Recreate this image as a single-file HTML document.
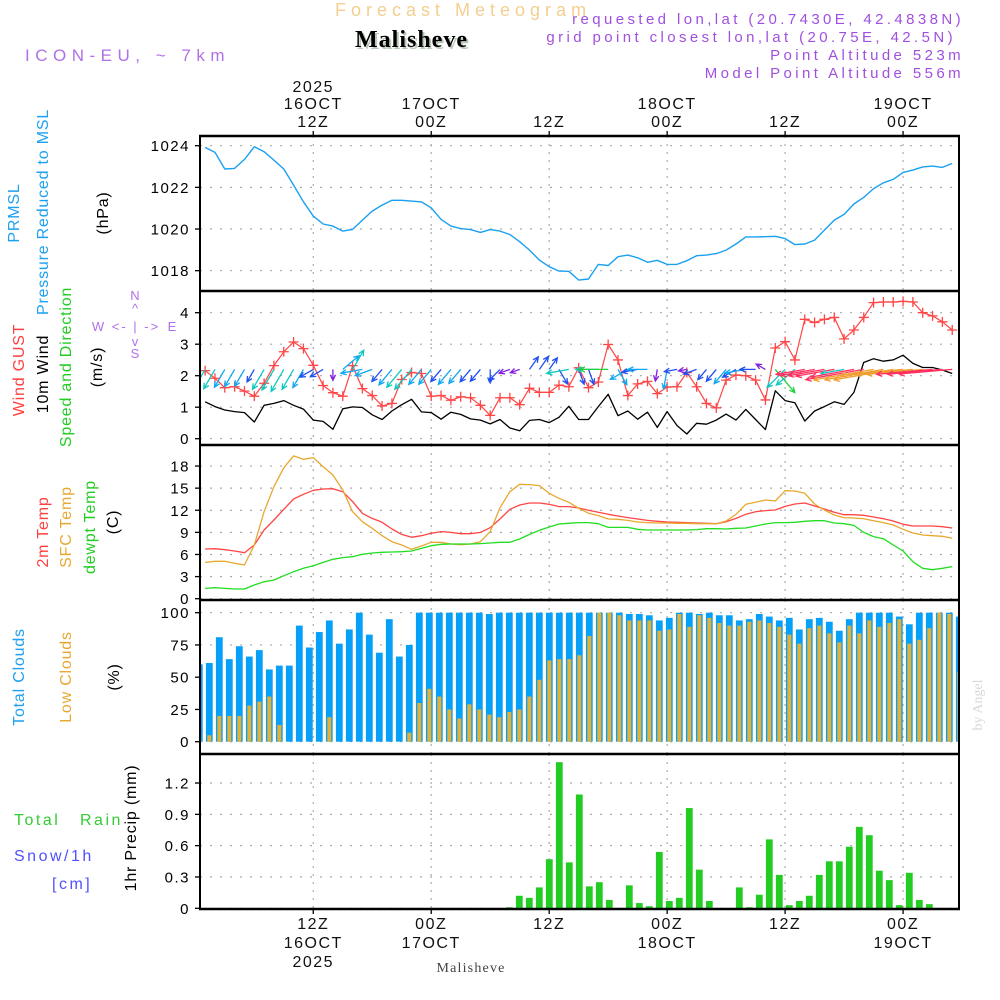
<!DOCTYPE html>
<html>
<head>
<meta charset="utf-8">
<style>
html,body{margin:0;padding:0;background:#fff;}
svg{display:block;font-family:"Liberation Sans",sans-serif;}
</style>
</head>
<body>
<svg id="chart" width="1000" height="1000" viewBox="0 0 1000 1000" xmlns="http://www.w3.org/2000/svg">
<defs><clipPath id="plotclip"><rect x="200" y="136" width="759" height="773"/></clipPath></defs>
<text x="335" y="16" font-size="18" fill="#f3cf90" letter-spacing="5">Forecast Meteogram</text>
<text x="357" y="49" font-size="24" font-weight="bold" font-family="Liberation Serif,serif" fill="#b8c8b8" letter-spacing="1">Malisheve</text>
<text x="355" y="47" font-size="24" font-weight="bold" font-family="Liberation Serif,serif" fill="#000" letter-spacing="1">Malisheve</text>
<text x="25" y="61" font-size="17" fill="#b070e8" letter-spacing="5.5">ICON-EU, ~ 7km</text>
<g fill="#a050e0" font-size="15" text-anchor="end" letter-spacing="3.4">
<text x="964" y="24">requested lon,lat (20.7430E, 42.4838N)</text>
<text x="956" y="42">grid point closest lon,lat (20.75E, 42.5N)</text>
<text x="964" y="60">Point Altitude 523m</text>
<text x="964" y="78">Model Point Altitude 556m</text>
</g>
<g font-size="16" text-anchor="middle" letter-spacing="0.8">
<g transform="translate(19,213) rotate(-90)"><text fill="#1ea0f0">PRMSL</text></g>
<g transform="translate(48,212) rotate(-90)"><text fill="#1ea0f0">Pressure Reduced to MSL</text></g>
<g transform="translate(108,213) rotate(-90)"><text fill="#000">(hPa)</text></g>
<g transform="translate(24,370) rotate(-90)"><text fill="#ff4040">Wind GUST</text></g>
<g transform="translate(48,374) rotate(-90)"><text fill="#000">10m Wind</text></g>
<g transform="translate(71,367) rotate(-90)"><text fill="#22cc22">Speed and Direction</text></g>
<g transform="translate(102,367) rotate(-90)"><text fill="#000">(m/s)</text></g>
<g transform="translate(48,532) rotate(-90)"><text fill="#ff4040">2m Temp</text></g>
<g transform="translate(71,527) rotate(-90)"><text fill="#e8a830">SFC Temp</text></g>
<g transform="translate(95,527) rotate(-90)"><text fill="#22cc22">dewpt Temp</text></g>
<g transform="translate(118,522) rotate(-90)"><text fill="#000">(C)</text></g>
<g transform="translate(24,677) rotate(-90)"><text fill="#1ea0f0">Total Clouds</text></g>
<g transform="translate(71,677) rotate(-90)"><text fill="#e8a830">Low Clouds</text></g>
<g transform="translate(119,677) rotate(-90)"><text fill="#000">(%)</text></g>
<g transform="translate(136,828) rotate(-90)"><text fill="#000">1hr Precip (mm)</text></g>
</g>
<g font-size="16" letter-spacing="2.5">
<text x="14" y="825" fill="#33cc33">Total</text>
<text x="80" y="825" fill="#33cc33">Rain</text>
<text x="14" y="861" fill="#5050ff">Snow/1h</text>
<text x="52" y="889" fill="#5050ff">[cm]</text>
</g>
<g fill="#b070e8" font-size="13" text-anchor="middle">
<text x="135" y="300">N</text>
<text x="135" y="313">^</text>
<text x="98" y="331">W</text>
<text x="136" y="331" letter-spacing="2">&lt;- | -&gt;</text>
<text x="172" y="331">E</text>
<text x="135" y="346">v</text>
<text x="135" y="358">S</text>
</g>
<g transform="translate(982,705) rotate(-90)"><text text-anchor="middle" font-size="14" fill="#d8d8d8" font-family="Liberation Serif,serif">by Angel</text></g>
<text x="471" y="972" font-size="14" text-anchor="middle" font-family="Liberation Serif,serif" fill="#444" letter-spacing="1.2">Malisheve</text>
<g id="layer"></g>
</svg>
<script>
// ---- data (hours 1..77 from 16OCT 00Z) ----
const hours = Array.from({length:77},(_,i)=>i+1);
const pressure = [1023.92,1023.68,1022.88,1022.91,1023.34,1023.95,1023.71,1023.31,1022.88,1022.11,1021.31,1020.62,1020.24,1020.14,1019.9,1019.98,1020.43,1020.86,1021.15,1021.38,1021.38,1021.34,1021.3,1021.02,1020.46,1020.14,1020.02,1019.97,1019.84,1019.97,1019.9,1019.73,1019.39,1018.99,1018.51,1018.19,1017.98,1017.97,1017.55,1017.6,1018.3,1018.25,1018.67,1018.75,1018.62,1018.4,1018.5,1018.3,1018.3,1018.48,1018.72,1018.75,1018.82,1018.99,1019.28,1019.62,1019.62,1019.63,1019.65,1019.54,1019.25,1019.28,1019.47,1019.95,1020.43,1020.7,1021.2,1021.52,1021.94,1022.22,1022.38,1022.72,1022.83,1022.98,1023.02,1022.96,1023.15];
const wind10m = [1.17,1.02,0.91,0.86,0.83,0.53,1.06,1.12,1.21,1.06,0.94,0.59,0.55,0.30,0.95,1.01,0.99,0.76,0.61,0.88,1.08,1.25,0.85,0.83,0.62,0.84,0.77,0.63,0.59,0.47,0.61,0.34,0.25,0.58,0.61,0.51,0.68,1.03,0.61,0.61,1.02,1.41,0.73,0.88,0.62,0.84,0.36,0.86,0.42,0.15,0.49,0.46,0.59,0.78,0.59,0.93,0.61,0.29,1.52,1.21,1.14,0.56,0.88,1.02,1.17,1.09,1.47,2.42,2.54,2.46,2.50,2.65,2.39,2.26,2.26,2.18,2.07];
const gust = [2.16,1.92,1.62,1.65,1.51,1.35,1.76,2.32,2.76,3.07,2.86,2.33,1.69,1.46,1.35,2.32,1.59,1.37,1.04,1.12,1.88,2.10,2.07,1.35,1.37,1.22,1.33,1.30,1.06,0.74,1.30,1.30,1.08,1.60,1.47,1.47,1.70,1.65,2.25,1.62,1.80,2.99,2.50,1.37,1.74,1.82,1.43,1.64,1.65,2.10,1.65,1.12,0.98,1.86,2.02,2.00,1.86,1.23,2.88,3.08,2.50,3.79,3.69,3.79,3.85,3.17,3.45,3.85,4.32,4.34,4.34,4.36,4.34,4.0,3.90,3.71,3.45];
const windDir = [30,30,30,30,30,30,30,30,30,30,30,60,60,0,230,210,80,70,40,40,40,40,40,40,40,40,40,40,40,0,45,70,70,215,215,215,330,80,340,340,90,90,330,60,80,90,10,10,80,80,70,40,40,40,60,80,90,120,320,45,50,80,80,80,80,80,80,80,80,80,80,85,85,85,85,85,85];
const temp2m = [6.74,6.79,6.65,6.47,6.24,7.29,9.32,10.68,12.13,13.53,14.16,14.71,14.89,14.93,14.52,13.17,11.58,10.9,10.36,9.46,8.73,8.33,8.55,8.87,9.1,9.0,8.82,8.82,9.0,9.64,10.81,12.13,12.71,12.99,12.99,12.81,12.49,12.49,12.31,12.0,11.72,11.45,11.22,11.0,10.81,10.63,10.5,10.41,10.36,10.32,10.27,10.23,10.18,10.45,10.9,11.45,11.81,11.95,12.04,12.53,12.85,12.99,12.58,12.17,11.72,11.4,11.4,11.31,11.09,10.86,10.54,10.09,9.86,9.86,9.86,9.77,9.59];
const tempSfc = [4.93,5.07,5.07,4.8,4.57,7.29,11.81,15.2,17.78,19.37,18.91,19.14,17.92,16.79,14.75,11.81,10.45,9.55,8.55,7.74,7.29,6.70,7.15,7.65,7.65,7.42,7.33,7.42,7.74,9.1,12.35,14.52,15.52,15.48,15.34,14.3,13.62,13.08,12.26,11.6,11.27,10.81,10.77,10.63,10.41,10.32,10.27,10.27,10.23,10.23,10.18,10.18,10.18,10.54,11.45,12.81,13.08,13.39,13.26,14.66,14.62,14.3,12.85,12.04,11.36,11.0,10.95,10.86,10.59,10.32,10.0,9.41,8.91,8.64,8.55,8.46,8.19];
const dewpt = [1.40,1.49,1.40,1.31,1.31,1.86,2.31,2.53,3.12,3.67,4.12,4.48,4.93,5.34,5.57,5.70,6.02,6.20,6.29,6.33,6.38,6.47,6.83,7.19,7.38,7.42,7.42,7.42,7.47,7.56,7.65,7.65,8.1,8.73,9.28,9.73,10.14,10.23,10.32,10.32,10.18,9.68,9.68,9.68,9.41,9.32,9.32,9.32,9.32,9.32,9.37,9.50,9.50,9.46,9.55,9.59,9.86,10.14,10.32,10.32,10.36,10.5,10.59,10.59,10.27,10.18,9.95,9.0,8.42,8.14,7.29,6.47,5.02,4.12,3.94,4.12,4.35];
// bar series (index 0..76)
const barIndex = Array.from({length:77},(_,i)=>i);
const totalClouds = [60,61,81,64,74,66,71,56,59,59,90,73,85,94,76,87,100,83,69,95,66,75,100,100,100,100,100,100,100,99,100,100,100,100,100,100,100,100,100,100,100,100,100,99,99,98,94,96,100,100,99,100,98,98,94,95,99,97,94,96,87,95,96,93,86,95,100,100,100,100,97,91,100,100,100,100,97];
const lowClouds = [1,5,20,20,20,28,31,35,13,0,0,0,0,19,0,0,0,0,0,0,0,7,30,41,35,25,18,29,25,21,19,23,25,35,48,63,64,64,67,82,100,100,98,94,94,94,86,87,99,89,98,96,92,90,90,93,94,92,89,83,76,88,90,84,77,90,84,94,89,92,95,76,79,88,100,99,54];
const precip = [0,0,0,0,0,0,0,0,0,0,0,0,0,0,0,0,0,0,0,0,0,0,0,0,0,0,0,0,0,0,0,0.01,0.12,0.10,0.20,0.47,1.40,0.44,1.09,0.21,0.25,0.08,0,0.22,0.05,0.02,0.54,0.07,0.10,0.96,0.37,0.07,0,0,0.20,0.01,0.13,0.66,0.32,0.03,0.07,0.12,0.32,0.45,0.45,0.59,0.78,0.70,0.36,0.27,0.03,0.34,0.08,0.04,0,0,0];
// ticks
const gridHours = [12,24,36,48,60,72];
const hourLabels = ["12Z","00Z","12Z","00Z","12Z","00Z"];
const dateLabels = ["16OCT","17OCT","","18OCT","","19OCT"];
const yearLabels = ["2025","","","","",""];
const pTicks = [1018,1020,1022,1024];
const wTicks = [0,1,2,3,4];
const tTicks = [0,3,6,9,12,15,18];
const cTicks = [0,25,50,75,100];
const rTicks = [0,0.3,0.6,0.9,1.2];

// ---- scales ----
const xH = h => 195.3 + 9.83*h;
const xB = i => 199.3 + 10*i;
const yP = v => 145.7 + (1024 - v)*20.83;
const yW = v => 438.7 - v*31.5;
const yT = v => 598.7 - v*7.37;
const yC = v => 741.7 - v*1.29;
const yR = v => 908.3 - v*104.4;

const NS = "http://www.w3.org/2000/svg";
const layer = document.getElementById('layer');
function mk(tag, attrs, parent){
  const e = document.createElementNS(NS, tag);
  for (const k in attrs) e.setAttribute(k, attrs[k]);
  (parent||layer).appendChild(e);
  return e;
}
const clipG = mk('g', {'clip-path':'url(#plotclip)'});



// grid
const panels = [[136,291,yP,pTicks],[291,445,yW,wTicks],[445,600,yT,tTicks],[600,754,yC,cTicks],[754,909,yR,rTicks]];
panels.forEach(([top,bot,sc,ticks]) => {
  ticks.forEach(t => {
    const y = sc(t);
    const g = mk('line', {x1:200,x2:959,y1:y,y2:y,stroke:'#aaa','stroke-width':1.2,'stroke-dasharray':'2 8'}, clipG);
    
    
  });
  gridHours.forEach(h => {
    const v = mk('line', {x1:xH(h),x2:xH(h),y1:top,y2:bot,stroke:'#aaa','stroke-width':1.2,'stroke-dasharray':'2 6'}, clipG);
    
    
  });
});

// cloud bars
barIndex.forEach(i => {
  const b = mk('rect', {x:xB(i)-3.4,y:yC(totalClouds[i]),width:6.8,height:yC(0)-yC(totalClouds[i]),fill:'#06a0f8'}, clipG);
  
  
  const l = mk('rect', {x:xB(i)-2,y:yC(lowClouds[i]),width:4,height:yC(0)-yC(lowClouds[i]),fill:'#e8b030'}, clipG);
  
  
  if (precip[i] > 0) {
    const p = mk('rect', {x:xB(i)-3.4,y:yR(precip[i]),width:6.8,height:yR(0)-yR(precip[i]),fill:'#22cc22'}, clipG);
    
    
  }
});

function line(vals, sc, color, w, name){
  const d = vals.map((v,i)=>(i?'L':'M')+xH(hours[i]).toFixed(1)+' '+sc(v).toFixed(1)).join(' ');
  const p = mk('path', {d:d,fill:'none',stroke:color,'stroke-width':w,'stroke-linejoin':'round'}, clipG);
  
  
  return p;
}
line(pressure, yP, '#1aa0f2', 1.4, 'pressure-line');
line(wind10m, yW, '#000', 1.3, 'wind-speed-line');
line(gust, yW, '#ff4545', 1.2, 'gust-line');
gust.forEach((v,i) => {
  const x = xH(hours[i]), y = yW(v);
  const m = mk('path', {d:`M${x-5} ${y}H${x+5}M${x} ${y-5}V${y+5}`,stroke:'#ff4545','stroke-width':1.3}, clipG);
  
  
});
// wind arrows
function arrowColor(w, g){
  if (g >= 4.0) return '#f0a030';
  if (g >= 3.2) return '#ff3060';
  if (w < 0.4) return '#8020e0';
  if (w < 0.7) return '#2050f0';
  if (w < 1.0) return '#10a8f0';
  if (w < 1.3) return '#10c8c0';
  return '#20d040';
}
windDir.forEach((d,i) => {
  const x0 = xH(hours[i]), y0 = yW(2.2);
  const L = 6 + 16*wind10m[i] + (gust[i] > 3.2 ? 14 : 0);
  const r = d*Math.PI/180;
  const ux = -Math.sin(r), uy = Math.cos(r);
  const x1 = x0 + L*ux, y1 = y0 + L*uy;
  const hx = -ux*6, hy = -uy*6;
  const c = Math.cos(0.45), s = Math.sin(0.45);
  const a1x = x1 + hx*c - hy*s, a1y = y1 + hx*s + hy*c;
  const a2x = x1 + hx*c + hy*s, a2y = y1 - hx*s + hy*c;
  const a = mk('path', {d:`M${x0.toFixed(1)} ${y0.toFixed(1)}L${x1.toFixed(1)} ${y1.toFixed(1)}M${a1x.toFixed(1)} ${a1y.toFixed(1)}L${x1.toFixed(1)} ${y1.toFixed(1)}L${a2x.toFixed(1)} ${a2y.toFixed(1)}`,fill:'none',stroke:arrowColor(wind10m[i], gust[i]),'stroke-width':1.3}, clipG);
  
  
});
line(temp2m, yT, '#ff4545', 1.3, 't2m-line');
line(tempSfc, yT, '#e8a830', 1.3, 'sfc-temp-line');
line(dewpt, yT, '#22dd22', 1.3, 'dewpt-line');

// frame
[136,291,445,600,754,909].forEach(y => {
  const f = mk('line', {x1:199,x2:960,y1:y,y2:y,stroke:'#000','stroke-width':2.4});
  
  
});
[200,959].forEach(x => {
  const f = mk('line', {x1:x,x2:x,y1:135,y2:910,stroke:'#000','stroke-width':2});
  
  
});
// y tick labels
panels.forEach(([top,bot,sc,ticks]) => {
  ticks.forEach(t => {
    const y = sc(t);
    const tk = mk('line', {x1:195,x2:200,y1:y,y2:y,stroke:'#000','stroke-width':1.3});
    
    
    const lb = mk('text', {x:190,y:y+5.5,'text-anchor':'end','font-size':15,fill:'#000','letter-spacing':1.5});
    lb.textContent = String(t);
    
    
  });
});
// x ticks and labels
gridHours.forEach((h,i) => {
  const x = xH(h);
  const t1 = mk('line', {x1:x,x2:x,y1:131,y2:136,stroke:'#000','stroke-width':1.3});
  
  
  const t2 = mk('line', {x1:x,x2:x,y1:909,y2:914,stroke:'#000','stroke-width':1.3});
  
  
  const rows = [[yearLabels[i],92,967],[dateLabels[i],109,948],[hourLabels[i],127,929]];
  rows.forEach(([txt,yt,yb]) => {
    if (!txt) return;
    const a = mk('text', {x:x,y:yt,'text-anchor':'middle','font-size':16,fill:'#111','letter-spacing':1.5});
    a.textContent = txt;
    
    
    const b = mk('text', {x:x,y:yb,'text-anchor':'middle','font-size':16,fill:'#111','letter-spacing':1.5});
    b.textContent = txt;
    
    
  });
});
</script>
</body>
</html>
